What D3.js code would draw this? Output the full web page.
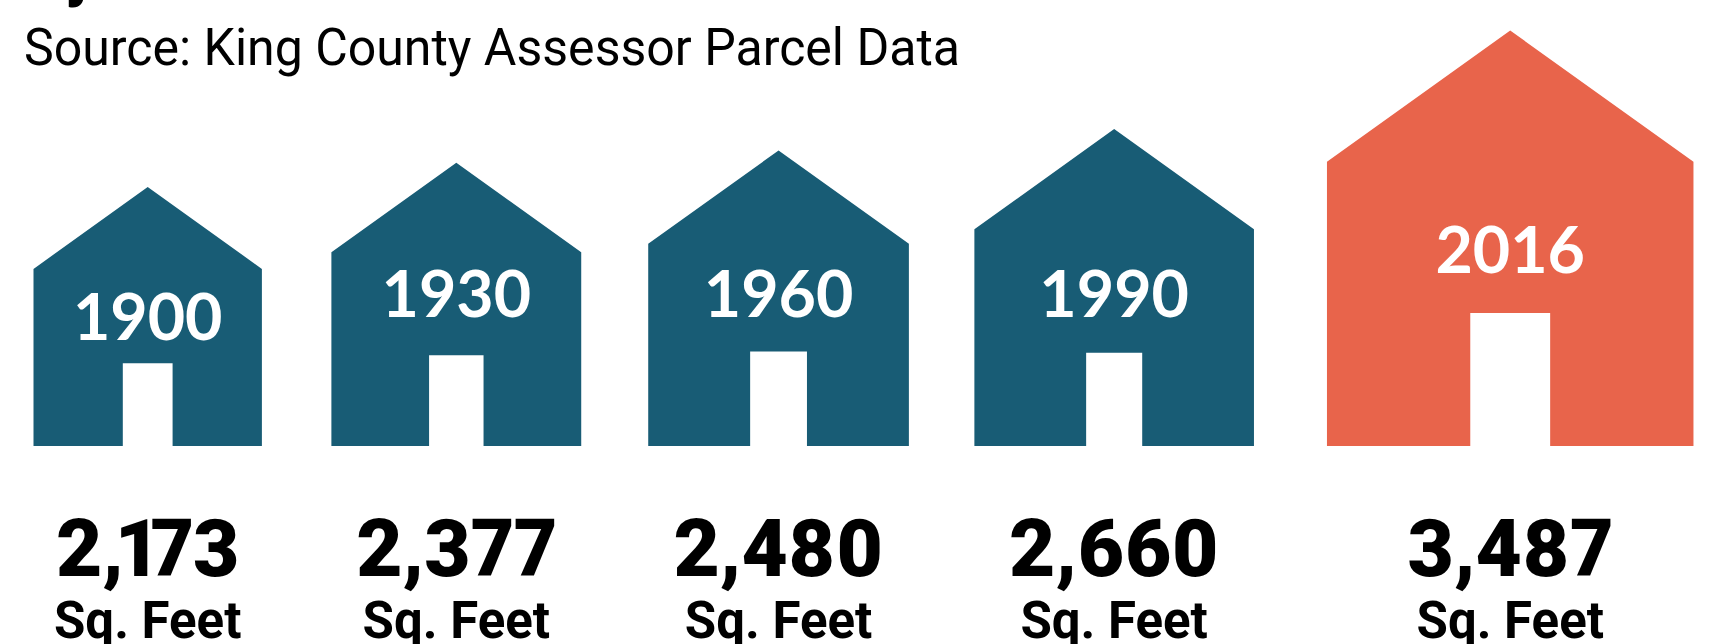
<!DOCTYPE html>
<html><head><meta charset="utf-8">
<script src="https://cdnjs.cloudflare.com/ajax/libs/d3/7.8.5/d3.min.js"></script>
<style>html,body{margin:0;padding:0;background:#fff;overflow:hidden}svg{display:block}</style>
</head><body><svg id="c" width="1710" height="644"></svg>
<script>
const years = ["1900","1930","1960","1990","2016"];
const sqFeet = [2173,2377,2480,2660,3487];
const colors = ["#185c75","#185c75","#185c75","#185c75","#e8644b"];
const titleFragment = "By";
const sourceLine = "Source: King County Assessor Parcel Data";
const unitLabel = "Sq. Feet";

const W=1710,H=644,baseY=446,startX=33.5;
const gaps=[69.5,67,65.5,73];
const yearBaselines=[340,317,317,317,273];
const doorFit=[1,1,1,0.92,1];
const wScale=d3.scaleLinear().domain([0,3487]).range([0,366.5]);
const hScale=d3.scaleLinear().domain([0,3487]).range([0,415.5]);
const svg=d3.select("#c");
let x=startX;
const rows=sqFeet.map((v,i)=>{const w=wScale(v);const r={year:years[i],v,color:colors[i],w,h:hScale(v),cx:x+w/2,yb:yearBaselines[i],fit:doorFit[i]};x+=w+(gaps[i]||0);return r;});
const fmt=d3.format(",");
const narrowOnes=s=>Array.from(s).map((c,i,a)=>(c==="1"||a[i-1]==="1")?-7:0).join(" ");

svg.append("text").attr("x",26).attr("y",-5).attr("font-family","Roboto").attr("font-weight",900).attr("font-size",60).text(titleFragment);
svg.append("text").attr("x",24).attr("y",65).attr("font-family","Roboto").attr("font-size",52).attr("textLength",936).attr("lengthAdjust","spacingAndGlyphs").attr("fill","#000").text(sourceLine);

const g=svg.selectAll("g.h").data(rows).join("g").attr("class","h");
g.append("path").attr("fill",d=>d.color).attr("d",d=>{
  const p=d3.path(),l=d.cx-d.w/2,r=d.cx+d.w/2,t=baseY-d.h,s=t+d.h*0.316,dw=d.w*0.218/2*d.fit,dt=baseY-d.h*0.32*d.fit;
  p.moveTo(l,baseY);p.lineTo(l,s);p.lineTo(d.cx,t);p.lineTo(r,s);p.lineTo(r,baseY);
  p.lineTo(d.cx+dw,baseY);p.lineTo(d.cx+dw,dt);p.lineTo(d.cx-dw,dt);p.lineTo(d.cx-dw,baseY);p.closePath();return p.toString();});
g.append("text").attr("x",d=>d.cx).attr("y",d=>d.yb).attr("text-anchor","middle").attr("fill","#fff")
 .attr("font-family","Lato").attr("font-weight",700).attr("font-size",64.5).text(d=>d.year);
g.append("text").attr("x",d=>d.cx).attr("y",576).attr("dx",d=>narrowOnes(fmt(d.v))).attr("text-anchor","middle").attr("fill","#000")
 .attr("font-family","Roboto").attr("font-weight",900).attr("font-size",80).style("font-variant-numeric","proportional-nums").text(d=>fmt(d.v));
g.append("text").attr("x",d=>d.cx).attr("y",638).attr("text-anchor","middle").attr("fill","#000")
 .attr("font-family","Roboto").attr("font-weight",700).attr("font-size",51).text(unitLabel);
</script></body></html>
